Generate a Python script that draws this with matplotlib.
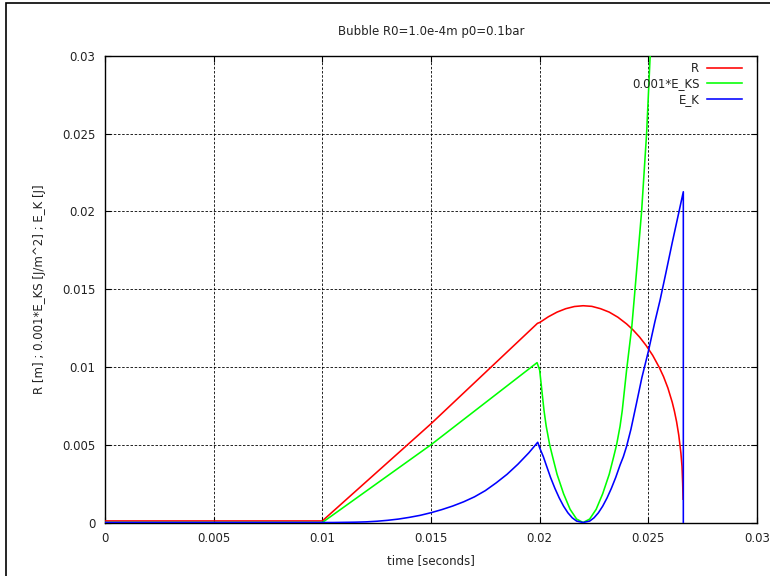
import matplotlib
matplotlib.use('Agg')
import matplotlib.pyplot as plt
import matplotlib.ticker as mticker
import matplotlib.patches as mpatches

# ── Simulation output (time [s], value) ──────────────────────────────────────
R_t = [0.0, 0.0100, 0.0150, 0.0199, 0.0200, 0.0204, 0.0208, 0.0212, 0.0216,
       0.0220, 0.0224, 0.0228, 0.0232, 0.0236, 0.0240, 0.0243, 0.0246,
       0.0249, 0.0252, 0.0255, 0.0257, 0.0259, 0.0261, 0.0262, 0.0263,
       0.0264, 0.0265, 0.02655, 0.02658, 0.02660]
R_v = [0.0001, 0.0001, 0.00635, 0.01281, 0.01286, 0.01323, 0.01353, 0.01375,
       0.01389, 0.01394, 0.01390, 0.01375, 0.01353, 0.01320, 0.01277,
       0.01238, 0.01192, 0.01138, 0.01075, 0.00998, 0.00938, 0.00865,
       0.00773, 0.00716, 0.00648, 0.00562, 0.00445, 0.00360, 0.00250,
       0.00150]

EKS_t = [0.0, 0.0100, 0.0150, 0.01988, 0.0200, 0.0201, 0.0202, 0.0203,
         0.02046, 0.0206, 0.0208, 0.0211, 0.0214, 0.0217, 0.0220, 0.0223,
         0.0226, 0.0229, 0.0232, 0.0234, 0.02354, 0.0237, 0.0238, 0.0240,
         0.02424, 0.02437, 0.02454, 0.02469, 0.02492, 0.0251]
EKS_v = [0.0, 0.0, 0.0050, 0.01028, 0.0098, 0.0085, 0.0072, 0.0062,
         0.0050, 0.0042, 0.0031, 0.00185, 0.00085, 0.00022, 0.0, 0.00022,
         0.00085, 0.00185, 0.0031, 0.0042, 0.0050, 0.0062, 0.0072, 0.0098,
         0.0126, 0.0147, 0.0175, 0.0200, 0.0250, 0.0305]

EK_t = [0.0, 0.0100, 0.0105, 0.0110, 0.0115, 0.0120, 0.0125, 0.0130,
        0.0135, 0.0140, 0.0145, 0.0150, 0.0155, 0.0160, 0.0165, 0.0170,
        0.0175, 0.0180, 0.0185, 0.0190, 0.0195, 0.01991, 0.0200, 0.02017,
        0.0203, 0.0205, 0.0207, 0.0209, 0.0211, 0.0213, 0.0215, 0.0217,
        0.0220, 0.0223, 0.0225, 0.0227, 0.0229, 0.0231, 0.0233, 0.0235,
        0.0237, 0.02385, 0.0240, 0.0242, 0.02446, 0.0247, 0.0250, 0.0253,
        0.02554, 0.0258, 0.0261, 0.02635, 0.02661, 0.02661]
EK_v = [0.0, 0.0, 0.0, 0.00001, 0.00002, 0.00004, 0.00008, 0.00014,
        0.00022, 0.00033, 0.00046, 0.00063, 0.00083, 0.00106, 0.00133, 0.00165,
        0.00205, 0.00255, 0.00310, 0.00375, 0.00448, 0.00516, 0.00480, 0.00423,
        0.0037, 0.0029, 0.0022, 0.00158, 0.00105, 0.00062, 0.00030, 0.00009,
        0.0, 0.00009, 0.00030, 0.00062, 0.00105, 0.00158, 0.0022, 0.0029,
        0.0037, 0.00423, 0.0049, 0.0060, 0.0077, 0.0093, 0.0110, 0.0129,
        0.0143, 0.0160, 0.0180, 0.0196, 0.02127, 0.0]

TICKS = [0, 0.005, 0.01, 0.015, 0.02, 0.025, 0.03]

TITLE = 'Bubble R0=1.0e-4m p0=0.1bar'
XLABEL = 'time [seconds]'
YLABEL = 'R [m] ; 0.001*E_KS [J/m^2] ; E_K [J]'

TEXT = '#222222'
FS = 8.5

plt.rcParams.update({
    'font.family': 'DejaVu Sans',
    'font.size': FS,
})

fig = plt.figure(figsize=(7.7, 5.76), dpi=100)
ax = fig.add_axes([105 / 770, 1 - 522.5 / 576, 652 / 770, 466.5 / 576])

ax.plot(R_t, R_v, color='#ff0000', lw=1.15, label='R', zorder=3)
ax.plot(EKS_t, EKS_v, color='#00ff00', lw=1.15, label='0.001*E_KS', zorder=3)
ax.plot(EK_t, EK_v, color='#0000ff', lw=1.15, label='E_K', zorder=3)

ax.set_xlim(0, 0.03)
ax.set_ylim(0, 0.03)
fmt = mticker.FuncFormatter(lambda v, _: f'{v:g}')
ax.set_xticks(TICKS)
ax.set_yticks(TICKS)
ax.xaxis.set_major_formatter(fmt)
ax.yaxis.set_major_formatter(fmt)
ax.tick_params(direction='in', length=4, width=0.8, top=True, right=True,
               labelsize=FS, labelcolor=TEXT, pad=7)

ax.grid(True, color='black', linestyle=(0, (3, 2)), linewidth=0.6)
ax.set_axisbelow(True)
for sp in ax.spines.values():
    sp.set_linewidth(1.0)
    sp.set_color('black')

ax.set_xlabel(XLABEL, color=TEXT, fontsize=FS)
ax.xaxis.set_label_coords(0.5, -(554 - 522.5) / 466.5)
ax.set_ylabel(YLABEL, color=TEXT, fontsize=FS)
ax.yaxis.set_label_coords(-(105 - 46) / 652, 0.5)

fig.text(431 / 770, 1 - 32 / 576, TITLE, ha='center', va='center',
         color=TEXT, fontsize=FS)

ax.legend(loc='upper right', bbox_to_anchor=((742 - 105) / 652, (522.5 - 62) / 466.5),
          frameon=False, markerfirst=False, fontsize=FS, labelcolor=TEXT,
          handlelength=3.0, handletextpad=0.6, labelspacing=0.2,
          borderpad=0, borderaxespad=0)

# outer frame around the whole canvas
fig.patches.append(mpatches.Rectangle((6 / 770, -0.05), 1.2, 573 / 576 + 0.05,
                                      transform=fig.transFigure, fill=False,
                                      edgecolor='black', linewidth=1.2))

fig.savefig('out.png', dpi=100)
